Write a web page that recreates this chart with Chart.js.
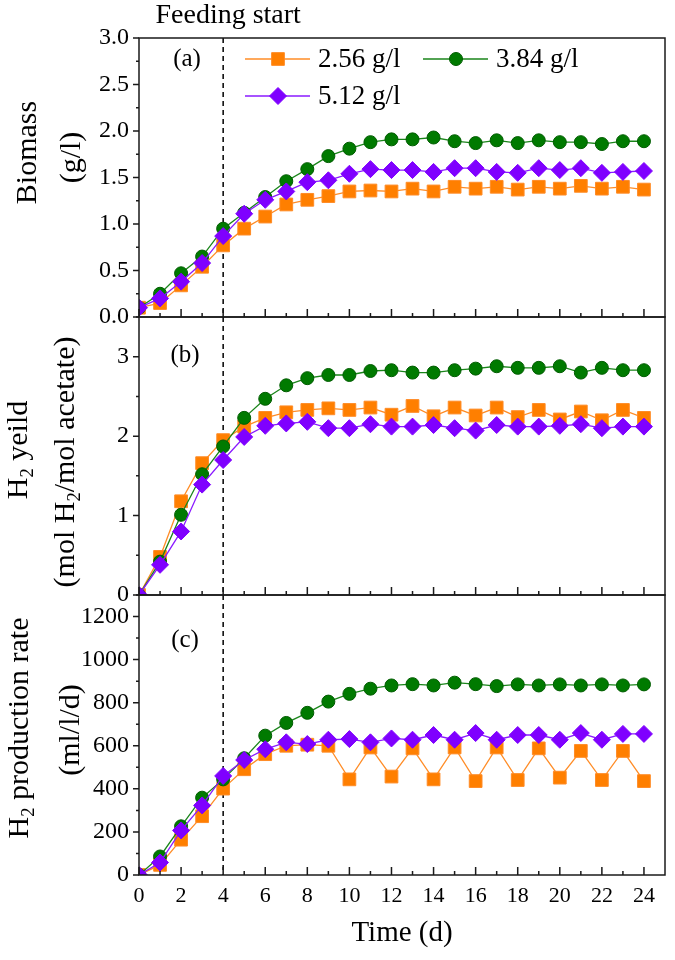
<!DOCTYPE html>
<html>
<head>
<meta charset="utf-8">
<script src="https://cdn.jsdelivr.net/npm/chart.js@4"></script>
<style>
  html, body { margin: 0; padding: 0; background: #fff; }
  #wrap { position: relative; width: 675px; height: 960px; overflow: hidden; }
  canvas { position: absolute; left: 0; }
</style>
</head>
<body>
<div id="wrap">
  <canvas id="chartA" width="675" height="345" style="top:0px"></canvas>
  <canvas id="chartB" width="675" height="340" style="top:280px"></canvas>
  <canvas id="chartC" width="675" height="400" style="top:560px"></canvas>
</div>
<script>
// ---- data ----
const days = [0, 1, 2, 3, 4, 5, 6, 7, 8, 9, 10, 11, 12, 13, 14, 15, 16, 17, 18, 19, 20, 21, 22, 23, 24];
const concLabels = ['2.56 g/l', '3.84 g/l', '5.12 g/l'];

const biomass256 = [0.10, 0.15, 0.34, 0.54, 0.77, 0.95, 1.08, 1.21, 1.26, 1.30, 1.35, 1.36, 1.35, 1.38, 1.35, 1.40, 1.38, 1.40, 1.37, 1.40, 1.38, 1.41, 1.38, 1.40, 1.37];
const biomass384 = [0.10, 0.25, 0.47, 0.65, 0.95, 1.12, 1.29, 1.46, 1.59, 1.73, 1.81, 1.88, 1.91, 1.91, 1.93, 1.89, 1.87, 1.90, 1.87, 1.90, 1.88, 1.88, 1.86, 1.89, 1.89];
const biomass512 = [0.10, 0.20, 0.38, 0.58, 0.87, 1.11, 1.26, 1.35, 1.45, 1.47, 1.54, 1.59, 1.58, 1.58, 1.56, 1.60, 1.60, 1.56, 1.55, 1.60, 1.58, 1.60, 1.55, 1.56, 1.57];

const yield256 = [0, 0.48, 1.18, 1.66, 1.95, 2.12, 2.23, 2.30, 2.33, 2.35, 2.33, 2.36, 2.27, 2.38, 2.25, 2.36, 2.26, 2.36, 2.24, 2.33, 2.21, 2.31, 2.20, 2.33, 2.23];
const yield384 = [0, 0.42, 1.01, 1.52, 1.87, 2.23, 2.47, 2.64, 2.73, 2.77, 2.77, 2.82, 2.83, 2.80, 2.80, 2.83, 2.85, 2.88, 2.86, 2.86, 2.88, 2.80, 2.86, 2.83, 2.83];
const yield512 = [0, 0.38, 0.80, 1.39, 1.70, 1.99, 2.13, 2.16, 2.18, 2.10, 2.10, 2.15, 2.12, 2.12, 2.14, 2.10, 2.07, 2.14, 2.12, 2.12, 2.13, 2.15, 2.10, 2.12, 2.12];

const rate256 = [0, 47, 164, 273, 401, 491, 561, 600, 605, 600, 444, 592, 457, 588, 444, 592, 436, 592, 441, 588, 452, 576, 441, 576, 436];
const rate384 = [0, 86, 226, 359, 444, 542, 647, 706, 753, 805, 841, 865, 880, 886, 880, 893, 886, 877, 885, 880, 885, 880, 885, 880, 885];
const rate512 = [0, 58, 207, 323, 460, 534, 584, 616, 608, 628, 631, 616, 634, 628, 650, 628, 659, 628, 650, 650, 628, 659, 628, 655, 655];

const xTicks = [0, 2, 4, 6, 8, 10, 12, 14, 16, 18, 20, 22, 24];
const biomassTicks = [0, 0.5, 1.0, 1.5, 2.0, 2.5, 3.0];
const yieldTicks = [0, 1, 2, 3];
const rateTicks = [0, 200, 400, 600, 800, 1000, 1200];
const feedDay = 4;

// ---- styling ----
const SERIF = '"Liberation Serif", "Times New Roman", serif';

const panels = {
  chartA: { tag: '(a)', tagX: 187, tagDy: 21, legend: true,
    titles: [['Biomass', 28, -25], ['(g/l)', 72, -20]] },
  chartB: { tag: '(b)', tagX: 185, tagDy: 38,
    titles: [['H₂ yeild', 19, -6], ['(mol H₂/mol acetate)', 66, 6]] },
  chartC: { tag: '(c)', tagX: 185, tagDy: 45,
    titles: [['H₂ production rate', 20, -7], ['(ml/l/d)', 71, -5]] },
};

function pts(arr) {
  return days.map((d, i) => ({ x: d, y: arr[i] }));
}

function seriesSets(a, b, c) {
  return [
    { label: concLabels[0], data: pts(a), borderColor: '#FF8C26', pointBackgroundColor: '#FF7F00',
      pointBorderColor: '#FF8C26', pointStyle: 'rect', pointRadius: 9, order: 2 },
    { label: concLabels[1], data: pts(b), borderColor: '#1A851A', pointBackgroundColor: '#007A00',
      pointBorderColor: '#005C00', pointStyle: 'circle', pointRadius: 6.5, order: 1 },
    { label: concLabels[2], data: pts(c), borderColor: '#8A1AFF', pointBackgroundColor: '#7F00FF',
      pointBorderColor: '#7F00FF', pointStyle: 'rectRot', pointRadius: 8.5, order: 0 },
  ].map(d => Object.assign({ borderWidth: 1.3, pointBorderWidth: 1, tension: 0, clip: 0, fill: false }, d));
}

// text with a lowered "2" for the subscript character
function richText(ctx, str, x, y, size, rotate) {
  const segs = str.split(/(₂)/).filter(Boolean).map(t => t === '₂' ? { t: '2', sub: true } : { t, sub: false });
  let total = 0;
  segs.forEach(s => {
    ctx.font = (s.sub ? size * 0.62 : size) + 'px ' + SERIF;
    s.w = ctx.measureText(s.t).width;
    total += s.w;
  });
  ctx.save();
  ctx.translate(x, y);
  if (rotate) ctx.rotate(-Math.PI / 2);
  ctx.fillStyle = '#000';
  ctx.textBaseline = 'middle';
  ctx.textAlign = 'left';
  let cur = -total / 2;
  segs.forEach(s => {
    ctx.font = (s.sub ? size * 0.62 : size) + 'px ' + SERIF;
    ctx.fillText(s.t, cur, s.sub ? size * 0.3 : 0);
    cur += s.w;
  });
  ctx.restore();
}

function minorsOf(major, max) {
  const out = [];
  for (let i = 0; i < major.length - 1; i++) out.push((major[i] + major[i + 1]) / 2);
  const step = major[1] - major[0];
  const extra = major[major.length - 1] + step / 2;
  if (extra <= max + 1e-9) out.push(extra);
  return out;
}

function drawMarker(ctx, style, x, y, r, fill, stroke) {
  ctx.save();
  ctx.fillStyle = fill;
  ctx.strokeStyle = stroke;
  ctx.lineWidth = 1;
  ctx.beginPath();
  if (style === 'rect') {
    const s = r * Math.SQRT1_2;
    ctx.rect(x - s, y - s, 2 * s, 2 * s);
  } else if (style === 'rectRot') {
    ctx.moveTo(x, y - r); ctx.lineTo(x + r, y); ctx.lineTo(x, y + r); ctx.lineTo(x - r, y); ctx.closePath();
  } else {
    ctx.arc(x, y, r, 0, Math.PI * 2);
  }
  ctx.fill();
  ctx.stroke();
  ctx.restore();
}

const deco = {
  id: 'deco',
  beforeDatasetsDraw(chart) {
    const { ctx, chartArea: a, scales: { x } } = chart;
    const px = x.getPixelForValue(feedDay);
    ctx.save();
    ctx.strokeStyle = '#000';
    ctx.lineWidth = 1.5;
    ctx.setLineDash([5, 4]);
    ctx.beginPath();
    ctx.moveTo(px, a.top);
    ctx.lineTo(px, a.bottom);
    ctx.stroke();
    ctx.restore();
  },
  afterDatasetsDraw(chart) {
    const { ctx, chartArea: a, scales: { x, y } } = chart;
    const cfg = panels[chart.canvas.id];
    ctx.save();
    ctx.strokeStyle = '#1a1a1a';
    ctx.lineWidth = 1.5;
    ctx.strokeRect(a.left, a.top, a.right - a.left, a.bottom - a.top);

    // x ticks point inward from the bottom edge
    ctx.beginPath();
    xTicks.forEach(v => { const p = x.getPixelForValue(v); ctx.moveTo(p, a.bottom); ctx.lineTo(p, a.bottom - 8); });
    minorsOf(xTicks, 24).forEach(v => { const p = x.getPixelForValue(v); ctx.moveTo(p, a.bottom); ctx.lineTo(p, a.bottom - 4); });
    // y ticks point outward on the left
    const yt = y.ticks.map(t => t.value);
    yt.forEach(v => { const p = y.getPixelForValue(v); ctx.moveTo(a.left, p); ctx.lineTo(a.left - 6, p); });
    minorsOf(yt, y.max).forEach(v => { const p = y.getPixelForValue(v); ctx.moveTo(a.left, p); ctx.lineTo(a.left - 3, p); });
    ctx.stroke();
    ctx.restore();

    // panel tag
    ctx.save();
    ctx.fillStyle = '#000';
    ctx.font = '25px ' + SERIF;
    ctx.textAlign = 'center';
    ctx.textBaseline = 'middle';
    ctx.fillText(cfg.tag, cfg.tagX, a.top + cfg.tagDy);
    ctx.restore();

    // y titles, two rotated lines
    const mid = (a.top + a.bottom) / 2;
    cfg.titles.forEach(([t, tx, dy]) => richText(ctx, t, tx, mid + dy, 30, true));

    if (cfg.legend) {
      ctx.save();
      ctx.fillStyle = '#000';
      ctx.font = '28px ' + SERIF;
      ctx.textBaseline = 'middle';
      ctx.textAlign = 'left';
      ctx.fillText('Feeding start', x.getPixelForValue(feedDay) + 5 - ctx.measureText('Feeding start').width / 2, 16);
      ctx.font = '27px ' + SERIF;
      const slots = [[245, 59], [423, 59], [245, 96]];
      chart.data.datasets.forEach((ds, i) => {
        const [lx, ly] = slots[i];
        ctx.strokeStyle = ds.borderColor;
        ctx.lineWidth = 1.3;
        ctx.beginPath();
        ctx.moveTo(lx, ly);
        ctx.lineTo(lx + 65, ly);
        ctx.stroke();
        drawMarker(ctx, ds.pointStyle, lx + 33, ly, ds.pointRadius, ds.pointBackgroundColor, ds.pointBorderColor);
        ctx.fillStyle = '#000';
        ctx.fillText(ds.label, lx + 73, ly + 1);
      });
      ctx.restore();
    }
  },
};

function buildChart(id, sets, yMin, yMax, yTickList, yFmt, padding, showX) {
  const tickFont = { family: SERIF, size: 24 };
  return new Chart(document.getElementById(id), {
    type: 'line',
    data: { datasets: sets },
    options: {
      responsive: false,
      animation: false,
      events: [],
      layout: { padding },
      plugins: { legend: { display: false }, tooltip: { enabled: false } },
      scales: {
        x: {
          type: 'linear',
          min: 0,
          max: 25,
          display: showX,
          grid: { display: false, drawTicks: false },
          border: { display: false },
          afterBuildTicks: s => { s.ticks = xTicks.map(v => ({ value: v })); },
          afterFit: s => { s.height = showX ? 85 : 0; },
          ticks: { color: '#000', font: { family: SERIF, size: 22 }, padding: 8, autoSkip: false, maxRotation: 0, includeBounds: false },
          title: { display: showX, text: 'Time (d)', color: '#000', font: { family: SERIF, size: 29 }, padding: { top: 0, bottom: 9 } },
        },
        y: {
          min: yMin,
          max: yMax,
          grid: { display: false, drawTicks: false },
          border: { display: false },
          afterBuildTicks: s => { s.ticks = yTickList.map(v => ({ value: v })); },
          afterFit: s => { s.width = 139; },
          ticks: { color: '#000', font: tickFont, padding: 10, autoSkip: false, includeBounds: false, callback: v => yFmt(v) },
        },
      },
    },
    plugins: [deco],
  });
}

buildChart('chartA', seriesSets(biomass256, biomass384, biomass512), 0, 3.0, biomassTicks,
  v => v.toFixed(1), { top: 38, bottom: 28, left: 0, right: 4 }, false);
buildChart('chartB', seriesSets(yield256, yield384, yield512), 0, 3.5, yieldTicks,
  v => String(v), { top: 37, bottom: 25, left: 0, right: 4 }, false);
buildChart('chartC', seriesSets(rate256, rate384, rate512), 0, 1300, rateTicks,
  v => String(v), { top: 35, bottom: 0, left: 0, right: 4 }, true);
</script>
</body>
</html>
